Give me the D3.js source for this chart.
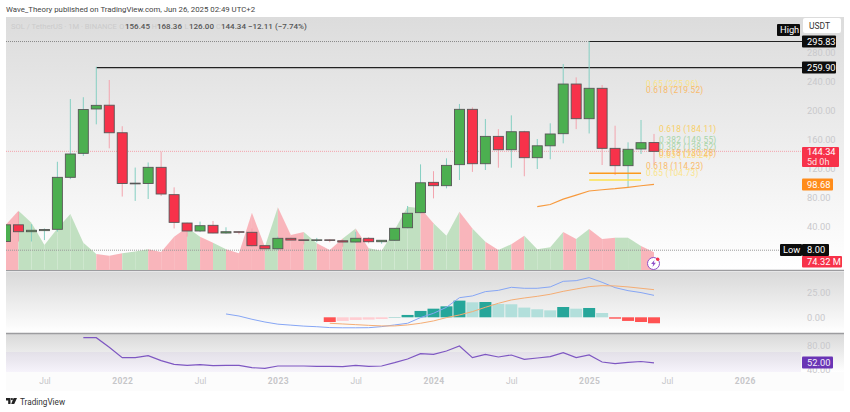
<!DOCTYPE html>
<html>
<head>
<meta charset="utf-8">
<script src="https://cdn.jsdelivr.net/npm/d3@7"></script>
<style>
body { margin: 0; background: #fff; font-family: Roboto, "Liberation Sans", sans-serif; }
.tick-label text { fill: #c9c9cc; font-size: 9.3px; font-family: Roboto, sans-serif; }
.time-label text { fill: #c6c6c9; font-size: 8.5px; font-family: Roboto, sans-serif; }
.time-label text.year { font-size: 8.5px; font-weight: 700; letter-spacing: 0.4px; }
.fib { font-size: 8.4px; font-family: Roboto, sans-serif; letter-spacing: 0.2px; }
</style>
</head>
<body>
<svg id="chart" width="850" height="412"></svg>
<script>
var months = ["Apr21","May21","Jun21","Jul21","Aug21","Sep21","Oct21","Nov21","Dec21","Jan22","Feb22","Mar22","Apr22","May22","Jun22","Jul22","Aug22","Sep22","Oct22","Nov22","Dec22","Jan23","Feb23","Mar23","Apr23","May23","Jun23","Jul23","Aug23","Sep23","Oct23","Nov23","Dec23","Jan24","Feb24","Mar24","Apr24","May24","Jun24","Jul24","Aug24","Sep24","Oct24","Nov24","Dec24","Jan25","Feb25","Mar25","Apr25","May25","Jun25"];
var opens = [20,43,33.5,35,36.8,108.5,141.6,202.8,208,170,99.5,100,122.3,84.6,45.5,34.5,42.3,31.7,33.5,32.7,14.2,10,24.4,22.3,21.5,22.3,21,19.3,24.4,19.7,21.7,39,59.8,101.6,97,126,202.3,127.3,165,146.6,171.4,135.6,152,168.7,237.2,189.4,231.3,148.5,124.6,147.6,156.45];
var highs = [43,61,44,38,130,216.5,219,261,242.8,179,122,129,143.9,94.7,46,47.4,48.3,39.6,34,38,14.8,26.7,26.7,23,25,23,23,33.5,26,21.7,38.2,69,126.4,117,134.7,209.7,205,189,175,194,172.8,161.4,183,264.8,246.4,295.83,235.9,179.7,156.8,187.6,168.36];
var lows = [19,20,20,22,33.5,106,138,181.6,148.5,82,76,78.6,82.7,38,26.7,33,31.3,30.8,30,12,8,8,20.7,16,19,19,12.8,18.3,17.5,17,20.5,38,58.9,79.5,93.3,104.8,116,118.6,121.8,121.8,110,120,133.4,155.4,175,169,125.5,111.7,94.8,140.7,126];
var closes = [43,33.5,35.5,36.5,108.5,140.7,202,207.8,170,100,100.5,122.3,85.5,46.4,34.5,41.8,31.7,33.5,33,14.2,10,24.4,22,22,22.3,21.5,19.3,24.4,19.7,21.7,38.2,58.9,101,97,125,202.3,127.3,165,146.6,171.4,135.6,152,168.3,237.2,189.4,231.3,148.5,124.6,147.2,156.3,144.34];
var volumes = [185.6,244,195,104,172,230.5,113,67,60,70,78,86.5,75.5,138,176,138,113,86.5,70,236,97,258,145,157,111,84,131,172,90.6,81,165,260,254,192.6,142,240,172,117.5,84,107,142,86.5,94.7,157,128.5,169,128.5,134,134,100,74.32];
var maMonths = ["Sep24","Oct24","Nov24","Dec24","Jan25","Feb25","Mar25","Apr25","May25","Jun25"];
var maValues = [68,71,78.5,84,89.7,91.4,92.8,94.7,96.9,98.68];
var histMonths = months.slice(25);
var histValues = [-4.8,-3.7,-2.7,-2.3,-1.7,0.3,2.4,6.5,8.8,11.2,17,15.3,15.6,13.6,13.3,9.9,8.2,7.1,10.5,8.8,9.5,4.4,-1.4,-3.7,-4.8,-6.1];
var macdMonths = months.slice(17);
var macdValues = [3.4,1.3,-2,-4.8,-7,-8,-9,-9.6,-10.5,-10.7,-10.7,-10.6,-9.5,-7.8,-6.1,-0.3,4.1,10.2,20,21.8,26.2,27.5,30.6,29.6,29.6,31,36.7,37.4,40.5,35.7,30.3,27.2,25.2,22.4];
var signalValues = [-6.1,-6.8,-7.5,-8.2,-8.8,-8.8,-7.8,-6.1,-3.7,-0.3,2.4,5.8,10.2,14.3,17.7,19.7,21.4,23.5,26.5,28.9,31.3,32.3,32,31,29.6,28.2];
var rsiMonths = months.slice(6);
var rsiValues = [93.9,93.9,77.8,60.6,60.6,63.9,55.6,49.4,47.8,48.9,47.2,47.8,47.8,43.9,42.8,46.7,46.7,46.7,46.1,46.1,45.6,47.8,46.1,46.7,52.2,58.3,67.2,66.1,71.7,80,60.6,66.1,61.7,65,57.8,60,62.2,68.9,60.6,65,53.3,50.6,52.8,54.2,52];
var priceTicks = [280,240,200,160,120,80,40];
var macdTicks = [25,0];
var rsiTicks = [80,40];
var timeTicks = ["Jul21","Jan22","Jul22","Jan23","Jul23","Jan24","Jul24","Jan25","Jul25","Jan26"];
var timeLabels = ["Jul","2022","Jul","2023","Jul","2024","Jul","2025","Jul","2026"];
var highPrice = 295.83, prevHigh = 259.90, lowPrice = 8, lastPrice = 144.34, lastVolume = 74.32, maLast = 98.68, rsiLast = 52;
var fibLow = [114.23, 104.73];

var GREEN = "#4caf50", RED = "#f7324a";
var PANE_L = 6, PANE_R = 844;

var svg = d3.select("#chart");
var defs = svg.append("defs");

function gradient(id, top) {
    var g = defs.append("linearGradient").attr("id", id).attr("x1", 0).attr("x2", 0).attr("y1", 0).attr("y2", 1);
    g.append("stop").attr("offset", "0%").attr("stop-color", top);
    g.append("stop").attr("offset", "100%").attr("stop-color", "#ffffff");
}
gradient("bgMain", "#dcdcdc");
gradient("bgSub", "#d9d9d9");
defs.append("clipPath").attr("id", "paneClip").append("rect").attr("x", PANE_L).attr("y", 17).attr("width", PANE_R - PANE_L).attr("height", 253);

function monthIndex(m) {
    var names = ["Jan","Feb","Mar","Apr","May","Jun","Jul","Aug","Sep","Oct","Nov","Dec"];
    return (+m.slice(3) - 21) * 12 + names.indexOf(m.slice(0, 3)) - 3;
}

// scales
var x = d3.scaleLinear().domain([0, 50]).range([5.5, 654]);
var y = d3.scaleLinear().domain([0, 280]).range([256, 53]);
var yVol = d3.scaleLinear().domain([0, lastVolume]).range([270.5, 252.3]);
var yMacd = d3.scaleLinear().domain([0, 25]).range([317.3, 292.8]);
var yRsi = d3.scaleLinear().domain([40, 80]).range([370, 346]);
var bodyW = 10;

// pane backgrounds
svg.append("rect").attr("x", PANE_L).attr("y", 17).attr("width", PANE_R - PANE_L).attr("height", 253).attr("fill", "url(#bgMain)");
svg.append("rect").attr("x", PANE_L).attr("y", 272).attr("width", PANE_R - PANE_L).attr("height", 61).attr("fill", "url(#bgSub)");
svg.append("rect").attr("x", PANE_L).attr("y", 334).attr("width", PANE_R - PANE_L).attr("height", 38).attr("fill", "url(#bgSub)");
svg.append("rect").attr("x", PANE_L).attr("y", 372).attr("width", PANE_R - PANE_L).attr("height", 19).attr("fill", "#fcfcfc");
svg.append("rect").attr("x", PANE_L).attr("y", yRsi(70)).attr("width", 795).attr("height", 372 - yRsi(70)).attr("fill", "#7e57c2").attr("opacity", 0.07);
[270.5, 333.5].forEach(function(s) {
    svg.append("line").attr("x1", PANE_L).attr("x2", PANE_R).attr("y1", s).attr("y2", s).attr("stroke", "#9c9c9f").attr("stroke-width", 1.5);
});

var main = svg.append("g").attr("clip-path", "url(#paneClip)");

// volume area, each month colored by its candle
var volArea = d3.area().x(function(d) { return x(d); }).y0(yVol(0)).y1(function(d) { return yVol(volumes[d]); });
main.selectAll(".vol").data(d3.range(1, months.length)).enter().append("path")
    .attr("d", function(i) { return volArea([i - 1, i]); })
    .attr("fill", function(i) { return closes[i] >= opens[i] ? "#c1e0c1" : "#f9b5bb"; });

// horizontal level lines
main.append("line").attr("x1", PANE_L).attr("x2", x(45)).attr("y1", y(highPrice)).attr("y2", y(highPrice)).attr("stroke", "#8a8a8a").attr("stroke-dasharray", "1 1");
main.append("line").attr("x1", PANE_L).attr("x2", 780).attr("y1", y(lowPrice)).attr("y2", y(lowPrice)).attr("stroke", "#9a9a9a").attr("stroke-dasharray", "1 1");
main.append("line").attr("x1", PANE_L).attr("x2", 802).attr("y1", y(lastPrice)).attr("y2", y(lastPrice)).attr("stroke", "#f4a3ad").attr("stroke-dasharray", "1 1");
main.append("line").attr("x1", x(45)).attr("x2", 802).attr("y1", y(highPrice)).attr("y2", y(highPrice)).attr("stroke", "#222").attr("stroke-width", 1.2);
main.append("line").attr("x1", x(7)).attr("x2", 802).attr("y1", y(prevHigh)).attr("y2", y(prevHigh)).attr("stroke", "#222").attr("stroke-width", 1.2);

// candles
main.selectAll(".wick").data(months).enter().append("line")
    .attr("x1", function(d, i) { return x(i); }).attr("x2", function(d, i) { return x(i); })
    .attr("y1", function(d, i) { return y(highs[i]); }).attr("y2", function(d, i) { return y(lows[i]); })
    .attr("stroke", function(d, i) { return closes[i] >= opens[i] ? "#85cfc2" : "#f3a4ae"; })
    .attr("stroke-width", 1);
main.selectAll(".body").data(months).enter().append("rect")
    .attr("x", function(d, i) { return x(i) - bodyW / 2; })
    .attr("width", bodyW)
    .attr("y", function(d, i) { return y(Math.max(opens[i], closes[i])); })
    .attr("height", function(d, i) { return Math.max(0.6, Math.abs(y(opens[i]) - y(closes[i]))); })
    .attr("fill", function(d, i) { return closes[i] >= opens[i] ? GREEN : RED; })
    .attr("stroke", "#575757").attr("stroke-width", 0.9);

// moving average
var maLine = d3.line().x(function(d) { return x(monthIndex(d)); }).y(function(d, i) { return y(maValues[i]); });
main.append("path").attr("d", maLine(maMonths)).attr("fill", "none").attr("stroke", "#f79a3e").attr("stroke-width", 1.2);

// fib lines and labels
main.append("line").attr("x1", x(45)).attr("x2", x(49)).attr("y1", y(fibLow[0])).attr("y2", y(fibLow[0])).attr("stroke", "#fb9a1f").attr("stroke-width", 1.6);
main.append("line").attr("x1", x(45)).attr("x2", x(49)).attr("y1", y(fibLow[1])).attr("y2", y(fibLow[1])).attr("stroke", "#fde24f").attr("stroke-width", 1.6);
var fibLabels = [
    ["0.65 (225.96)", 646, 87, "#fbe48a"],
    ["0.618 (219.52)", 646, 93, "#f9bb6c"],
    ["0.618 (184.11)", 659, 132, "#f8cf68"],
    ["0.382 (149.55)", 659, 143, "#a9d5a9"],
    ["0.382 (138.52)", 659, 150, "#a9d5a9"],
    ["0.65 (126.24)", 659, 158, "#fbe07a"],
    ["0.618 (130.28)", 659, 155.5, "#f9bb6c"],
    ["0.618 (114.23)", 646, 169, "#f9bb6c"],
    ["0.65 (104.73)", 646, 176, "#fbe48a"]
];
fibLabels.forEach(function(f) {
    main.append("text").attr("class", "fib").attr("x", f[1]).attr("y", f[2]).attr("fill", f[3]).text(f[0]);
});

// lightning icon
var icon = svg.append("g").attr("transform", "translate(653.5,263.5)");
icon.append("circle").attr("r", 6).attr("fill", "#fff").attr("stroke", "#8e4fc8").attr("stroke-width", 1);
icon.append("path").attr("d", "M1,-3.6 L-2.4,0.6 L-0.3,0.6 L-1,3.6 L2.4,-0.8 L0.3,-0.8 Z").attr("fill", "#8e4fc8");
icon.append("circle").attr("cx", 4.2).attr("cy", -4.2).attr("r", 1.7).attr("fill", "#f7324a");

// price axis
var priceAxis = d3.axisRight(y).tickValues(priceTicks).tickFormat(d3.format(".2f")).tickSize(0).tickPadding(0);
svg.append("g").attr("class", "tick-label").attr("transform", "translate(807,0)").call(priceAxis).select(".domain").remove();

// value badges
function badge(x0, x1, y0, y1, fill, label, pad) {
    svg.append("rect").attr("x", x0).attr("y", y0).attr("width", x1 - x0).attr("height", y1 - y0).attr("fill", fill).attr("rx", 1);
    svg.append("text").attr("x", x0 + (pad || 5)).attr("y", (y0 + y1) / 2 + 3.3).attr("fill", "#fff").attr("font-size", 9.3).text(label);
}
svg.append("rect").attr("x", 803).attr("y", 18).attr("width", 38).attr("height", 15).attr("rx", 2).attr("fill", "#fff");
svg.append("text").attr("x", 809).attr("y", 29).attr("fill", "#333").attr("font-size", 8.5).text("USDT");
badge(777, 800, 24, 36, "#0d0d0d", "High", 3);
badge(802, 836, y(highPrice) - 6, y(highPrice) + 6, "#0d0d0d", d3.format(".2f")(highPrice));
badge(802, 836, y(prevHigh) - 6, y(prevHigh) + 6, "#0d0d0d", d3.format(".2f")(prevHigh));
svg.append("rect").attr("x", 802).attr("y", 147).attr("width", 37).attr("height", 20).attr("rx", 1).attr("fill", RED);
svg.append("text").attr("x", 807).attr("y", 154.5).attr("fill", "#fff").attr("font-size", 9.3).text(d3.format(".2f")(lastPrice));
svg.append("text").attr("x", 807).attr("y", 164.5).attr("fill", "#fde0e3").attr("font-size", 9).text("5d 0h");
badge(802, 833, y(maLast) - 6, y(maLast) + 6, "#ff8c1a", d3.format(".2f")(maLast));
badge(780, 802, 244, 256, "#0d0d0d", "Low", 3);
badge(802, 829, 244, 256, "#0d0d0d", d3.format(".2f")(lowPrice));
badge(802, 842, 256, 267.5, RED, d3.format(".2f")(lastVolume) + " M");

// macd pane
var macd = svg.append("g");
macd.selectAll("rect").data(histMonths).enter().append("rect")
    .attr("x", function(d) { return x(monthIndex(d)) - 6; })
    .attr("width", 12)
    .attr("y", function(d, i) { return Math.min(yMacd(0), yMacd(histValues[i])); })
    .attr("height", function(d, i) { return Math.abs(yMacd(histValues[i]) - yMacd(0)); })
    .attr("fill", function(d, i) {
        var prev = i > 0 ? histValues[i - 1] : null, v = histValues[i];
        if (v >= 0) return prev === null || v > prev ? "#26a69a" : "#b2dfdb";
        return prev === null || v < prev ? "#ff5252" : "#ffcdd2";
    });
var macdLine = d3.line().x(function(d) { return x(monthIndex(d)); }).y(function(d, i) { return yMacd(macdValues[i]); });
var signalLine = d3.line().x(function(d) { return x(monthIndex(d)); }).y(function(d, i) { return yMacd(signalValues[i]); });
macd.append("path").attr("d", macdLine(macdMonths)).attr("fill", "none").attr("stroke", "#86a6f5").attr("stroke-width", 1);
macd.append("path").attr("d", signalLine(histMonths)).attr("fill", "none").attr("stroke", "#f5ad74").attr("stroke-width", 1);
var macdAxis = d3.axisRight(yMacd).tickValues(macdTicks).tickFormat(d3.format(".2f")).tickSize(0).tickPadding(0);
svg.append("g").attr("class", "tick-label").attr("transform", "translate(807,0)").call(macdAxis).select(".domain").remove();

// rsi pane
var rsiLine = d3.line().x(function(d) { return x(monthIndex(d)); }).y(function(d, i) { return yRsi(rsiValues[i]); });
svg.append("path").attr("d", rsiLine(rsiMonths)).attr("fill", "none").attr("stroke", "#7e57c2").attr("stroke-width", 1.2);
var rsiAxis = d3.axisRight(yRsi).tickValues(rsiTicks).tickFormat(d3.format(".2f")).tickSize(0).tickPadding(0);
svg.append("g").attr("class", "tick-label").attr("transform", "translate(807,0)").call(rsiAxis).select(".domain").remove();
svg.append("rect").attr("x", 802).attr("y", 356.5).attr("width", 31).attr("height", 12).attr("rx", 1).attr("fill", "#6a35b5");
svg.append("text").attr("x", 807).attr("y", yRsi(rsiLast) + 3.3).attr("fill", "#f3eefb").attr("font-size", 9.3).text(d3.format(".2f")(rsiLast));

// time axis
var timeAxis = d3.axisBottom(x).tickValues(timeTicks.map(monthIndex))
    .tickFormat(function(d, i) { return timeLabels[i]; }).tickSize(0).tickPadding(0);
var timeG = svg.append("g").attr("class", "time-label").attr("transform", "translate(0,378)").call(timeAxis);
timeG.select(".domain").remove();
timeG.selectAll("text").classed("year", function(d, i) { return timeLabels[i] !== "Jul"; });

// header text
svg.append("text").attr("x", 6).attr("y", 12.3).attr("fill", "#444").attr("font-size", 7.8).text("Wave_Theory published on TradingView.com, Jun 26, 2025 02:49 UTC+2");
svg.append("text").attr("x", 11).attr("y", 28.5).attr("fill", "#cbcbcb").attr("font-size", 7.6).text("SOL / TetherUS · 1M · BINANCE");
[["O", 119.3, "156.45", 125], ["H", 151.8, "168.36", 157], ["L", 184.5, "126.00", 189], ["C", 216, "144.34", 221]].forEach(function(p) {
    svg.append("text").attr("x", p[1]).attr("y", 28.5).attr("fill", "#cbcbcb").attr("font-size", 7.2).text(p[0]);
    svg.append("text").attr("x", p[3]).attr("y", 28.5).attr("fill", "#555").attr("font-size", 8).attr("font-weight", 500).text(p[2]);
});
svg.append("text").attr("x", 248).attr("y", 28.5).attr("fill", "#555").attr("font-size", 8).attr("font-weight", 500).text("−12.11 (−7.74%)");

// footer logo
var logo = svg.append("g").attr("transform", "translate(6,398)").attr("fill", "#222");
logo.append("path").attr("d", "M0,0 H4.5 V6 H2.2 V2.4 H0 Z");
logo.append("circle").attr("cx", 5.9).attr("cy", 1.1).attr("r", 1.1);
logo.append("path").attr("d", "M7.6,0 H11 L8.2,6 H5.2 Z");
svg.append("text").attr("x", 20).attr("y", 404.5).attr("fill", "#333").attr("font-size", 8.2).text("TradingView");
</script>
</body>
</html>
